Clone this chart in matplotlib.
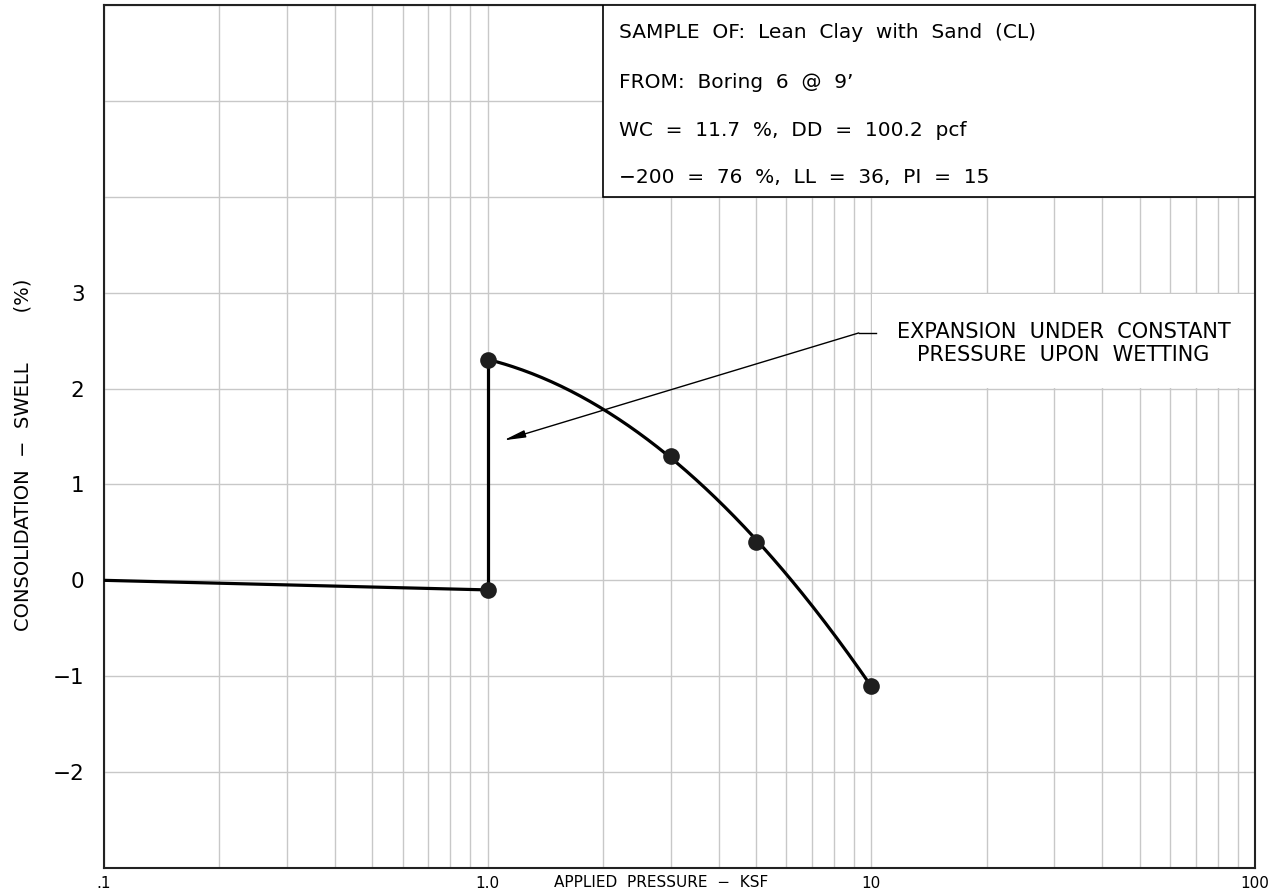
import numpy as np
import matplotlib
matplotlib.use("Agg")
import matplotlib.pyplot as plt
from matplotlib.patches import Rectangle

# consolidation-swell test readings
load_pressure = [0.1, 1.0]            # ksf, seating load path before wetting
load_strain = [0.0, -0.1]             # %
wet_pressure = [1.0, 1.0]             # ksf, swell at constant pressure
wet_strain = [-0.1, 2.3]
curve_pressure = [1.0, 3.0, 5.0, 10.0]  # ksf, loading after wetting
curve_strain = [2.3, 1.3, 0.4, -1.1]

point_pressure = [1.0, 1.0, 3.0, 5.0, 10.0]
point_strain = [-0.1, 2.3, 1.3, 0.4, -1.1]

y_ticks = [-2, -1, 0, 1, 2, 3]
x_ticks = [0.1, 1.0, 10, 100]
x_tick_labels = [".1", "1.0", "10", "100"]

info_lines = [
    "SAMPLE  OF:  Lean  Clay  with  Sand  (CL)",
    "FROM:  Boring  6  @  9\u2019",
    "WC  =  11.7  %,  DD  =  100.2  pcf",
    "\u2212200  =  76  %,  LL  =  36,  PI  =  15",
]
info_y = [5.71, 5.19, 4.69, 4.2]

plt.rcParams["font.family"] = ["DejaVu Sans"]

fig = plt.figure(figsize=(12.79, 8.94), dpi=100)
ax = fig.add_axes([0.0813, 0.0291, 0.9000, 0.9653])

ax.set_xscale("log")
ax.set_xlim(0.1, 100)
ax.set_ylim(-3, 6)

# grid
ax.grid(True, which="both", axis="x", color="#c8c8c8", linewidth=1.0, zorder=0)
ax.grid(True, which="major", axis="y", color="#c8c8c8", linewidth=1.0, zorder=0)

ax.set_yticks(np.arange(-3, 7))
ax.set_yticklabels(["" if v not in y_ticks else ("\u2212%d" % -v if v < 0 else str(v))
                    for v in range(-3, 7)], fontsize=15.5)
ax.set_xticks(x_ticks)
ax.set_xticklabels(x_tick_labels, fontsize=11)
ax.tick_params(axis="both", which="both", length=0)
ax.tick_params(axis="y", pad=14)
ax.tick_params(axis="x", pad=6)

for sp in ax.spines.values():
    sp.set_color("#222222")
    sp.set_linewidth(1.5)

# test path
ax.plot(load_pressure, load_strain, color="black", linewidth=2.3, zorder=4)
ax.plot(wet_pressure, wet_strain, color="black", linewidth=2.3, zorder=4)
u = np.log10(curve_pressure)
coef = np.polyfit(u, curve_strain, 2)
uu = np.linspace(u[0], u[-1], 200)
vv = np.polyval(coef, uu)
vv[0], vv[-1] = curve_strain[0], curve_strain[-1]
ax.plot(10 ** uu, vv, color="black", linewidth=2.3, zorder=4)
ax.plot(point_pressure, point_strain, "o", color="#1e1e1e", markersize=12,
        markeredgewidth=0, zorder=5)

# sample info box
ax.add_patch(Rectangle((2.0, 4.0), 98, 2.0, facecolor="white", edgecolor="black",
                       linewidth=1.2, zorder=6))
for txt, yy in zip(info_lines, info_y):
    ax.text(2.2, yy, txt, fontsize=14.5, va="center", ha="left", zorder=7)

# expansion note
ax.add_patch(Rectangle((10.05, 2.01), 89.9, 0.98, facecolor="white", edgecolor="none",
                       zorder=2))
ax.text(31.7, 2.47, "EXPANSION  UNDER  CONSTANT\nPRESSURE  UPON  WETTING", fontsize=15,
        ha="center", va="center", linespacing=1.2, zorder=7)
ax.plot([10.3, 9.27], [2.58, 2.58], color="black", linewidth=1.0, zorder=6)
ax.annotate("", xy=(1.10, 1.46), xytext=(9.27, 2.58),
            arrowprops=dict(arrowstyle="-|>,head_length=1.3,head_width=0.22",
                            color="black", linewidth=1.0, shrinkA=0, shrinkB=0),
            zorder=6)

ax.set_ylabel("CONSOLIDATION  \u2212  SWELL        (%)", fontsize=14)
ax.yaxis.set_label_coords(-0.062, 0.479)
fig.text(0.517, 0.013, "APPLIED  PRESSURE  \u2212  KSF", fontsize=11, ha="center",
         va="center")

fig.savefig("out.png", dpi=100)
